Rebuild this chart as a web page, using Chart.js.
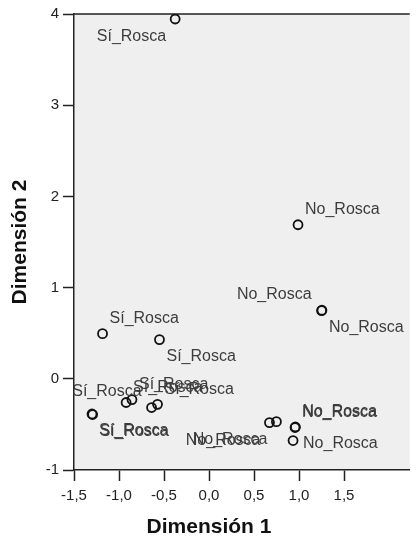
<!doctype html>
<html>
<head>
<meta charset="utf-8">
<script src="https://cdn.jsdelivr.net/npm/chart.js@4.4.0/dist/chart.umd.min.js"></script>
<style>
  html, body { margin: 0; padding: 0; background: #fff; }
  #wrap { width: 416px; height: 540px; }
</style>
</head>
<body>
<div id="wrap"><canvas id="biplot"></canvas></div>
<script>
// object scores
const dim1 = [-0.376, 0.989, 1.251, 1.255, -1.183, -0.550, -1.293, -1.300, -0.921, -0.856, -0.638, -0.572, 0.672, 0.749, 0.956, 0.960, 0.934];
const dim2 = [3.945, 1.689, 0.747, 0.752, 0.495, 0.430, -0.392, -0.386, -0.260, -0.228, -0.315, -0.280, -0.480, -0.470, -0.534, -0.528, -0.677];
const pointNames = ['Sí_Rosca', 'No_Rosca', 'No_Rosca', 'No_Rosca', 'Sí_Rosca', 'Sí_Rosca', 'Sí_Rosca', 'Sí_Rosca',
                    'Sí_Rosca', 'Sí_Rosca', 'Sí_Rosca', 'Sí_Rosca', 'No_Rosca', 'No_Rosca', 'No_Rosca', 'No_Rosca', 'No_Rosca'];
// which side of the marker the label sits on
const labelSide = ['sw', 'ne', 'nw', 'se', 'ne', 'se', 'se', 'se', 'ne', 'ne', 'nw', 'ne', 'sw', 'sw', 'ne', 'ne', 'e'];

const xTicks = [-1.5, -1.0, -0.5, 0.0, 0.5, 1.0, 1.5];
const yTicks = [-1, 0, 1, 2, 3, 4];
const xTitle = 'Dimensión 1';
const yTitle = 'Dimensión 2';

const FONT = "'Liberation Sans', Arial, sans-serif";

// gray panel + top frame line
const panelPlugin = {
  id: 'panel',
  beforeDraw(chart) {
    const {ctx, chartArea: a} = chart;
    ctx.save();
    ctx.fillStyle = '#efefef';
    ctx.fillRect(a.left, a.top, a.right - a.left, a.bottom - a.top);
    ctx.strokeStyle = '#222';
    ctx.lineWidth = 1.5;
    ctx.beginPath();
    ctx.moveTo(a.left, a.top);
    ctx.lineTo(a.right, a.top);
    ctx.stroke();
    ctx.restore();
  },
  // x title sits under the middle of the tick range, not the panel
  afterDraw(chart) {
    const ctx = chart.ctx;
    const xs = chart.scales.x;
    const mid = xs.getPixelForValue((xTicks[0] + xTicks[xTicks.length - 1]) / 2);
    ctx.save();
    ctx.font = 'bold 21px ' + FONT;
    ctx.fillStyle = '#111';
    ctx.textAlign = 'center';
    ctx.textBaseline = 'middle';
    ctx.fillText(xTitle, mid, xs.bottom - 13);
    ctx.restore();
  }
};

// point labels
const labelPlugin = {
  id: 'pointLabels',
  afterDatasetsDraw(chart) {
    const ctx = chart.ctx;
    const meta = chart.getDatasetMeta(0);
    ctx.save();
    ctx.font = '16px ' + FONT;
    ctx.fillStyle = '#3c3c3c';
    ctx.textBaseline = 'middle';
    meta.data.forEach((el, i) => {
      let dx = 7, dy = -15, align = 'left';
      switch (labelSide[i]) {
        case 'se': dx = 7; dy = 17; break;
        case 'sw': dx = -9; dy = 18; align = 'right'; break;
        case 'nw': dx = -10; dy = -16; align = 'right'; break;
        case 'e': dx = 10; dy = 3; break;
      }
      ctx.textAlign = align;
      ctx.fillText(pointNames[i], el.x + dx, el.y + dy);
    });
    ctx.restore();
  }
};

const points = dim1.map((x, i) => ({x: x, y: dim2[i]}));

new Chart(document.getElementById('biplot'), {
  type: 'scatter',
  data: {
    datasets: [{
      data: points,
      pointRadius: 4.5,
      pointHoverRadius: 4.5,
      pointBorderWidth: 1.8,
      pointBorderColor: '#111',
      pointBackgroundColor: 'rgba(0,0,0,0)'
    }]
  },
  options: {
    responsive: true,
    maintainAspectRatio: false,
    animation: false,
    events: [],
    layout: { padding: { top: 14, left: 0, right: 0, bottom: 0 } },
    plugins: { legend: { display: false }, tooltip: { enabled: false } },
    scales: {
      x: {
        type: 'linear',
        min: -1.5,
        max: 2.23,
        afterBuildTicks(scale) { scale.ticks = xTicks.map(v => ({value: v})); },
        afterFit(scale) { scale.height = 70; },
        border: { display: true, color: '#222', width: 1.5 },
        grid: { drawOnChartArea: false, drawTicks: true, tickLength: 11, tickWidth: 1.5, tickColor: '#222' },
        ticks: {
          padding: 6,
          maxRotation: 0,
          color: '#222',
          font: { family: FONT, size: 15 },
          callback: v => v.toFixed(1).replace('.', ',')
        },
        title: { display: false }
      },
      y: {
        type: 'linear',
        min: -1,
        max: 4,
        afterBuildTicks(scale) { scale.ticks = yTicks.map(v => ({value: v})); },
        afterFit(scale) { scale.width = 74; },
        border: { display: true, color: '#222', width: 1.5 },
        grid: { drawOnChartArea: false, drawTicks: true, tickLength: 11, tickWidth: 1.5, tickColor: '#222' },
        ticks: {
          padding: 4,
          color: '#222',
          font: { family: FONT, size: 15 },
          callback: v => String(v)
        },
        title: {
          display: true,
          text: yTitle,
          color: '#111',
          padding: { top: 8, bottom: 0 },
          font: { family: FONT, size: 21, weight: 'bold' }
        }
      }
    }
  },
  plugins: [panelPlugin, labelPlugin]
});
</script>
</body>
</html>
